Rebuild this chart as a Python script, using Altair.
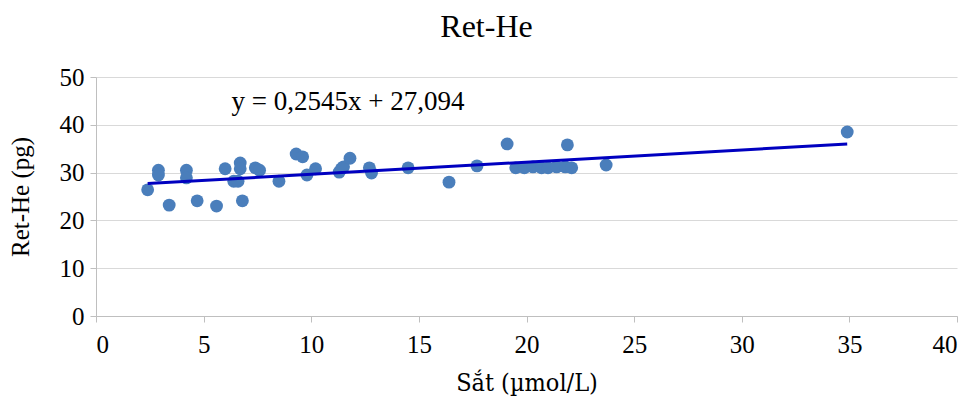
import altair as alt
import pandas as pd

# Data
sat = [2.4, 2.9, 2.9, 3.4, 4.2, 4.2, 4.7, 5.6, 6.0, 6.4, 6.6, 6.7, 6.7, 6.8,
       7.4, 7.6, 8.5, 9.3, 9.6, 9.8, 10.2, 11.3, 11.4, 11.5, 11.8, 12.7, 12.8,
       14.5, 16.4, 17.7, 19.1, 19.5, 19.9, 20.3, 20.7, 21.0, 21.4, 21.8, 21.9,
       22.1, 23.7, 34.9]
rethe = [26.4, 30.5, 29.5, 23.2, 30.5, 28.9, 24.1, 23.0, 30.8, 28.2, 28.2, 32.0,
         30.8, 24.1, 31.0, 30.5, 28.2, 33.9, 33.3, 29.5, 30.8, 30.1, 30.8, 31.2,
         33.0, 31.0, 29.9, 31.0, 28.0, 31.4, 36.0, 31.0, 31.0, 31.2, 31.0, 31.0,
         31.2, 31.2, 35.8, 31.0, 31.6, 38.5]

slope = 0.2545
intercept = 27.094
equation = ["y = 0,2545x  + 27,094"]
eq_x = [6.3]
eq_y = [43.1]

df = pd.DataFrame({"x": sat, "y": rethe})
trend = pd.DataFrame({"x": [min(sat), max(sat)]})
trend["y"] = slope * trend["x"] + intercept
eq_df = pd.DataFrame({"x": eq_x, "y": eq_y, "t": equation})

FONT = "Liberation Serif"
XFONT = "DejaVu Serif Condensed"

xs = alt.Scale(domain=[0, 40], nice=False, zero=False)
ys = alt.Scale(domain=[0, 50], nice=False, zero=False)

points = alt.Chart(df).mark_circle(size=165, opacity=1, color="#4a7ebb").encode(
    x=alt.X("x:Q", scale=xs,
            axis=alt.Axis(title="Sắt (\u00b5mol/L)", values=list(range(0, 45, 5)),
                          grid=False, tickSize=6, labelPadding=10,
                          titleFont=XFONT, titleFontSize=25,
                          titleBaseline="middle", titleY=66)),
    y=alt.Y("y:Q", scale=ys,
            axis=alt.Axis(title="Ret-He (pg)", values=list(range(0, 60, 10)),
                          grid=True, gridColor="#d9d9d9", tickSize=6,
                          labelPadding=6, titleBaseline="middle",
                          titleX=-76, titleY=119.5, titleAngle=-90)),
)

line = alt.Chart(trend).mark_line(color="#0000c0", strokeWidth=3).encode(
    x=alt.X("x:Q", scale=xs), y=alt.Y("y:Q", scale=ys)
)

eq = alt.Chart(eq_df).mark_text(align="left", baseline="alphabetic",
                                font=FONT, fontSize=27, color="#000").encode(
    x=alt.X("x:Q", scale=xs), y=alt.Y("y:Q", scale=ys), text="t:N"
)

chart = (points + line + eq).properties(
    width=861, height=239,
    autosize=alt.AutoSizeParams(type="none"),
    padding={"left": 88, "top": 69, "right": 6, "bottom": 82},
    title=alt.TitleParams("Ret-He", font=FONT, fontSize=32, fontWeight="normal",
                          color="#000", anchor="middle", dx=-40, offset=21),
).configure_view(stroke=None).configure_axis(
    labelFont=FONT, titleFont=FONT, labelFontSize=25, titleFontSize=25,
    labelColor="#000", titleColor="#000", titleFontWeight="normal",
    domainColor="#bfbfbf", tickColor="#bfbfbf",
)

chart.save("out.html", embed_options={"renderer": "svg", "actions": False})
